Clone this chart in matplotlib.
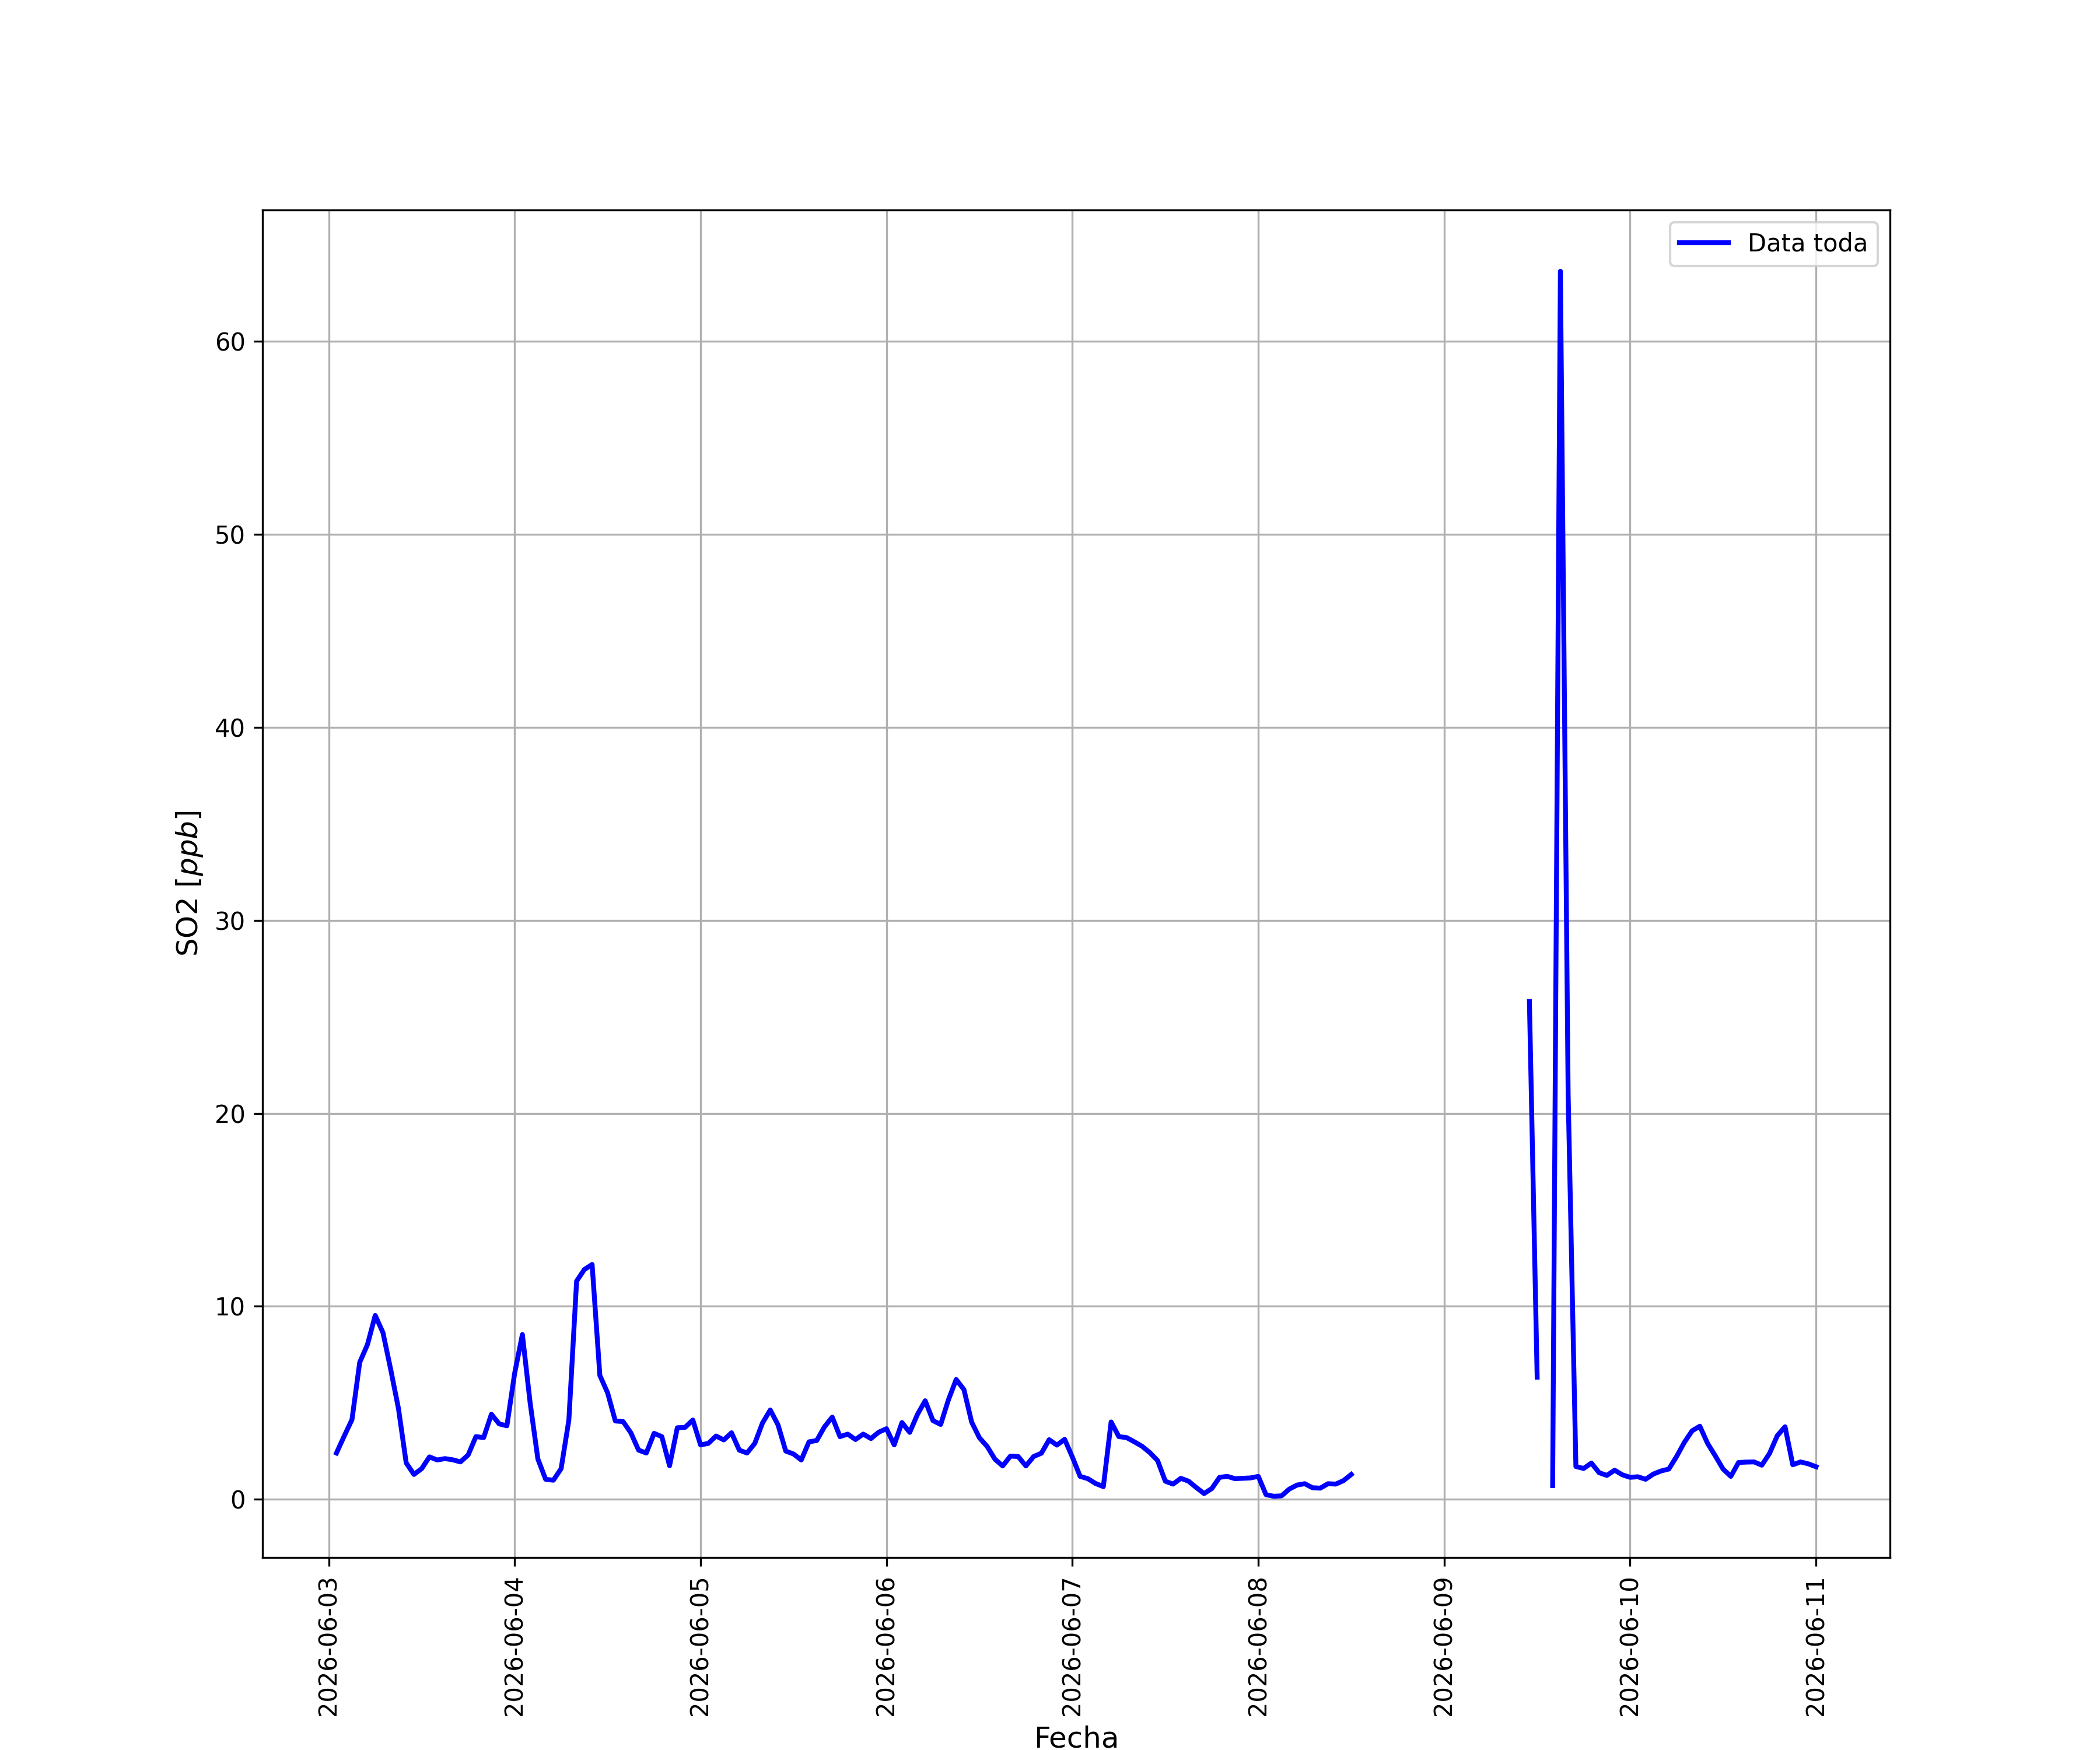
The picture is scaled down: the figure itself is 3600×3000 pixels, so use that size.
import numpy as np
import pandas as pd
import matplotlib
matplotlib.use('Agg')
from matplotlib import pyplot as plt
import matplotlib.dates as mdates

# SO2 hourly readings, 2026-06-03 01:00 -> 2026-06-08 12:00
so2_a = [2.40, 3.28, 4.13, 7.10, 8.02, 9.53, 8.64, 6.73, 4.71, 1.89, 1.29, 1.59,
         2.20, 2.04, 2.11, 2.05, 1.94, 2.30, 3.25, 3.20, 4.41, 3.91, 3.81, 6.53,
         8.54, 5.00, 2.09, 1.04, 0.99, 1.59, 4.11, 11.31, 11.91, 12.17, 6.42, 5.52,
         4.06, 4.03, 3.45, 2.55, 2.40, 3.42, 3.25, 1.74, 3.71, 3.73, 4.11, 2.82,
         2.90, 3.28, 3.08, 3.45, 2.55, 2.40, 2.90, 3.96, 4.63, 3.86, 2.50, 2.35,
         2.04, 2.98, 3.05, 3.76, 4.26, 3.25, 3.38, 3.10, 3.38, 3.15, 3.48, 3.66,
         2.82, 3.98, 3.47, 4.40, 5.11, 4.08, 3.88, 5.16, 6.21, 5.69, 4.00, 3.19,
         2.74, 2.08, 1.73, 2.24, 2.22, 1.73, 2.22, 2.39, 3.09, 2.81, 3.11, 2.19,
         1.19, 1.07, 0.82, 0.66, 4.01, 3.25, 3.20, 2.98, 2.75, 2.42, 2.01, 0.94,
         0.79, 1.09, 0.94, 0.61, 0.30, 0.56, 1.14, 1.19, 1.07, 1.09, 1.11, 1.19,
         0.24, 0.16, 0.18, 0.53, 0.74, 0.81, 0.60, 0.58, 0.81, 0.79, 0.97, 1.29]

# hours with no data (2026-06-08 13:00 -> 2026-06-09 10:00)
n_missing = 22

# 2026-06-09 11:00 -> 2026-06-11 00:00
so2_b = [25.80, 6.33, np.nan, 0.71, 63.64, 21.00, 1.70, 1.60, 1.88, 1.38,
         1.24, 1.51, 1.27, 1.14, 1.17, 1.04, 1.31, 1.47, 1.57, 2.22,
         2.95, 3.55, 3.79, 2.90, 2.25, 1.57, 1.19, 1.91, 1.93, 1.94,
         1.77, 2.38, 3.30, 3.76, 1.79, 1.94, 1.84, 1.69]

so2 = so2_a + [np.nan] * n_missing + so2_b
fechas = pd.date_range('2026-06-03 01:00', periods=len(so2), freq='h')

fig = plt.figure(figsize=(12, 10), dpi=300)
ax = fig.add_subplot(111)
ax.plot(fechas, so2, c='blue', lw=2, label='Data toda')

ax.xaxis.set_major_locator(mdates.DayLocator())
ax.xaxis.set_major_formatter(mdates.DateFormatter('%Y-%m-%d'))
plt.xticks(rotation=90)

ax.set_xlabel('Fecha', fontsize=12)
ax.set_ylabel('SO2 [$ppb$]', fontsize=12)
ax.grid(True, color='#b0b0b0')
ax.legend(loc='upper right')

plt.savefig('out.png', dpi=300)
